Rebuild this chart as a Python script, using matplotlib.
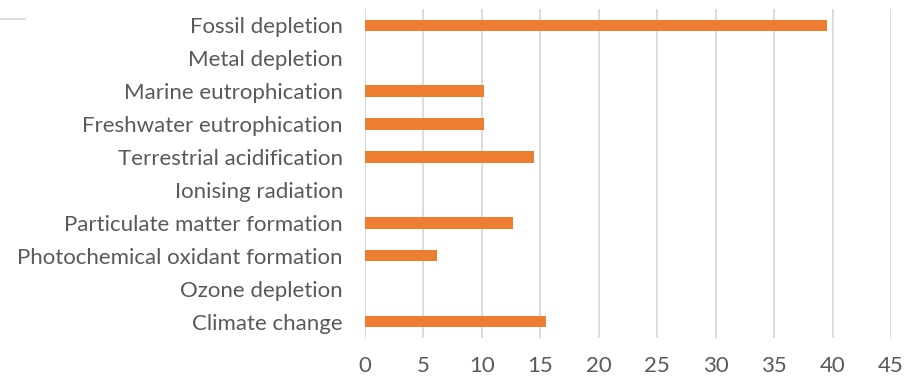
import matplotlib.pyplot as plt
from matplotlib.lines import Line2D

# impact categories, bottom to top
categories = ['Climate change', 'Ozone depletion', 'Photochemical oxidant formation',
              'Particulate matter formation', 'Ionising radiation', 'Terrestrial acidification',
              'Freshwater eutrophication', 'Marine eutrophication', 'Metal depletion',
              'Fossil depletion']
values = [15.5, 0, 6.2, 12.7, 0, 14.5, 10.15, 10.15, 0, 39.55]
x_ticks = [0, 5, 10, 15, 20, 25, 30, 35, 40, 45]

plt.rcParams['font.family'] = ['Lato', 'DejaVu Sans']
text_grey = '#595959'
grid_grey = '#d9d9d9'

fig = plt.figure(figsize=(9.05, 3.79), dpi=100)
ax = fig.add_axes([0.4033, 0.1082, 0.5812, 0.8681])

ax.barh(range(len(categories)), values, height=0.35, color='#ED7D31', zorder=3)

ax.set_xlim(0, 45)
ax.set_ylim(-0.5, len(categories) - 0.5)
ax.set_xticks(x_ticks)
ax.set_yticks(range(len(categories)))
ax.set_yticklabels(categories)

ax.xaxis.grid(True, color=grid_grey, linewidth=1.3, zorder=0)
for side in ['top', 'right', 'bottom', 'left']:
    ax.spines[side].set_visible(False)

ax.tick_params(axis='x', length=0, pad=13, labelsize=16, labelcolor=text_grey)
ax.tick_params(axis='y', length=0, pad=16, labelsize=16, labelcolor=text_grey)

# stray rule in the top-left corner
fig.add_artist(Line2D([0, 25 / 905], [1 - 19 / 379, 1 - 19 / 379],
                      color=grid_grey, linewidth=1.3, transform=fig.transFigure))

fig.savefig('out.png', dpi=100)
